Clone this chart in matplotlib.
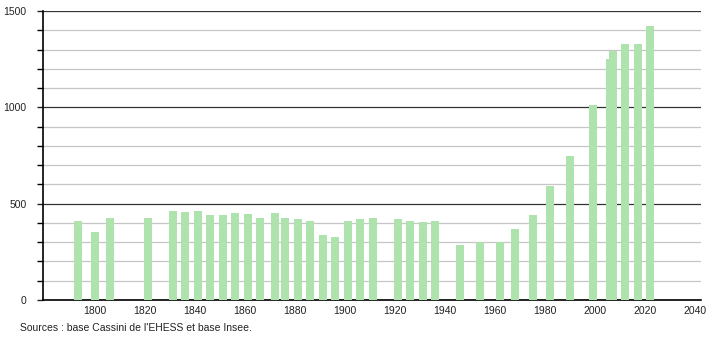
import matplotlib
matplotlib.use("Agg")
import matplotlib.pyplot as plt
from matplotlib.ticker import MultipleLocator

# census years and population
years = [1793, 1800, 1806, 1821, 1831, 1836, 1841, 1846, 1851, 1856,
         1861, 1866, 1872, 1876, 1881, 1886, 1891, 1896, 1901, 1906,
         1911, 1921, 1926, 1931, 1936, 1946, 1954, 1962, 1968, 1975,
         1982, 1990, 1999, 2006, 2007, 2012, 2017, 2022]
population = [411, 351, 427, 427, 462, 458, 463, 440, 441, 453,
              448, 427, 453, 427, 418, 411, 335, 329, 411, 418,
              427, 420, 411, 406, 410, 287, 301, 299, 370, 443,
              593, 749, 1011, 1253, 1291, 1331, 1331, 1421]
xticks = list(range(1800, 2041, 20))
yticks = [0, 500, 1000, 1500]
source = "Sources : base Cassini de l'EHESS et base Insee."

plt.rcParams["font.family"] = ["Liberation Sans", "DejaVu Sans"]

fig = plt.figure(figsize=(7.1, 3.4), dpi=100)
ax = fig.add_axes([43 / 710, 1 - 300 / 340, 658 / 710, 289 / 340])

ax.bar(years, population, width=3.2, color="#aee3ae", zorder=3)

ax.set_xlim(1779.2, 2042.4)
ax.set_ylim(0, 1500)
ax.set_xticks(xticks)
ax.set_yticks(yticks)
ax.yaxis.set_minor_locator(MultipleLocator(100))

ax.grid(axis="y", which="minor", color="#c6c6c6", linewidth=0.9, zorder=1)
ax.grid(axis="y", which="major", color="#333333", linewidth=0.9, zorder=2)

for side in ("top", "right"):
    ax.spines[side].set_visible(False)
ax.spines["left"].set_color("black")
ax.spines["bottom"].set_color("black")
ax.spines["left"].set_linewidth(1.2)
ax.spines["bottom"].set_linewidth(1.2)

ax.tick_params(axis="x", length=0, pad=4, labelsize=7.5, colors="#222222")
ax.tick_params(axis="y", which="major", length=4, width=1, pad=8,
               labelsize=7.5, colors="#222222")
ax.tick_params(axis="y", which="minor", length=4, width=1)

fig.text(20 / 710, 1 - 328 / 340, source, fontsize=7.5, color="#222222",
         va="center", ha="left")

fig.savefig("out.png", dpi=100)
